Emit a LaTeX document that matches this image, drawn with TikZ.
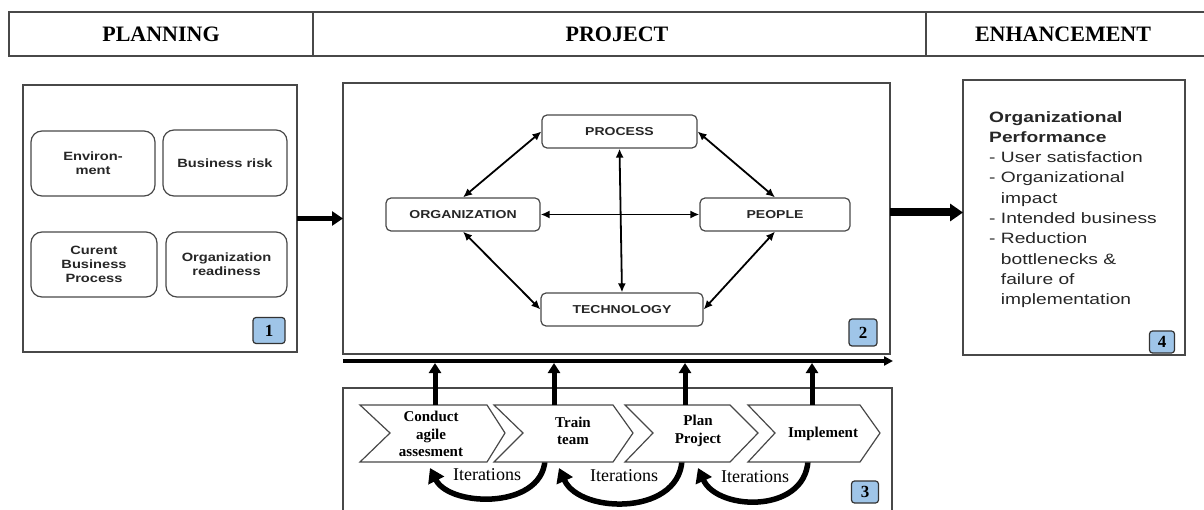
\documentclass[tikz,border=0pt]{standalone}
\usepackage{fontspec}
\setmainfont{Liberation Serif}
\newfontfamily\sansA[FakeStretch=1.22]{Liberation Sans}
\newfontfamily\sansB[FakeStretch=1.28]{Liberation Sans}
\usetikzlibrary{arrows.meta}
\definecolor{badgeblue}{HTML}{9FC5E8}
\definecolor{boxline}{HTML}{484848}
\begin{document}
\begin{tikzpicture}[x=1pt,y=-1pt,
  frame/.style={draw=boxline, line width=1.4pt, inner sep=0pt, outer sep=0pt},
  headtxt/.style={font=\bfseries\fontsize{22}{24}\selectfont, inner sep=0pt},
  pbox/.style={draw=boxline, line width=1.2pt, rounded corners=11pt, align=center,
    font=\sansA\bfseries\fontsize{12}{14}\selectfont, text=black!85, inner sep=0pt},
  cbox/.style={draw=boxline, line width=1.2pt, rounded corners=5pt, minimum height=33pt,
    font=\sansA\bfseries\fontsize{11.5}{13}\selectfont, text=black!85, inner sep=0pt},
  badge/.style={draw=black!80, line width=1.2pt, fill=badgeblue, rounded corners=3pt,
    font=\bfseries\fontsize{17}{17}\selectfont, inner sep=0pt},
  biarrow/.style={{Latex[length=9pt,width=8pt]}-{Latex[length=9pt,width=8pt]}, line width=1.8pt},
  chev/.style={draw=boxline, line width=1.2pt, fill=white},
  ctext/.style={align=center, font=\bfseries\fontsize{15}{17.5}\selectfont, inner sep=0pt},
  itxt/.style={font=\fontsize{18}{20}\selectfont, inner sep=0pt},
  uparrow/.style={line width=5pt, -{Triangle[length=10pt,width=12pt]}},
  iterarrow/.style={line width=5.5pt, -{Triangle[length=14pt,width=17pt]}}
]
\useasboundingbox (0,0) rectangle (1204,510);
\clip (0,0) rectangle (1204,510);

% header
\node[frame, minimum width=304pt, minimum height=44pt] (H1) at (161,34) {};
\node[frame, minimum width=613pt, minimum height=44pt] (H2) at (619.5,34) {};
\node[frame, minimum width=289pt, minimum height=44pt] (H3) at (1070.5,34) {};
\node[headtxt] (t1) at (161,34) {PLANNING};
\node[headtxt] (t2) at (617,34) {PROJECT};
\node[headtxt] (t3) at (1063,34) {ENHANCEMENT};

% big boxes
\node[frame, minimum width=274pt, minimum height=267pt] (B1) at (160,218.5) {};
\node[frame, minimum width=547pt, minimum height=271pt] (B2) at (616.5,218.5) {};
\node[frame, minimum width=222pt, minimum height=275pt] (B4) at (1074,217.5) {};
\node[frame, minimum width=549pt, minimum height=142pt] (B3) at (617.5,459) {};

% box 1 contents
\node[pbox, minimum width=124pt, minimum height=65pt] (env) at (93,163.5) {Environ-\\ment};
\node[pbox, minimum width=124pt, minimum height=66pt] (risk) at (225,163) {Business risk};
\node[pbox, minimum width=126pt, minimum height=65pt] (cur) at (94,264.5) {Curent\\Business\\Process};
\node[pbox, minimum width=121pt, minimum height=65pt] (ready) at (226.5,264.5) {Organization\\readiness};
\node[badge, minimum width=32pt, minimum height=26pt] (n1) at (269,330.5) {1};

% box 2 contents
\node[cbox, minimum width=155pt] (proc) at (619.5,131.5) {PROCESS};
\node[cbox, minimum width=154pt] (org) at (463,214.5) {ORGANIZATION};
\node[cbox, minimum width=150pt] (peo) at (775,214.5) {PEOPLE};
\node[cbox, minimum width=162pt] (tech) at (622,309.5) {TECHNOLOGY};
\draw[biarrow] (proc.west) -- (org.north);
\draw[biarrow] (proc.east) -- (peo.north);
\draw[biarrow] (org.south) -- (tech.west);
\draw[biarrow] (peo.south) -- (tech.east);
\draw[biarrow] (org.east) -- (peo.west);
\draw[biarrow] (proc.south) -- (tech.north);
\node[badge, minimum width=28pt, minimum height=27pt] (n2) at (863,332.5) {2};

% box 4 contents
\node[anchor=north west, inner sep=0pt, align=left, text=black!85,
  font=\sansB\fontsize{15}{20.3}\selectfont] (perf) at (989,111)
  {\textbf{Organizational}\\\textbf{Performance}\\- User satisfaction\\- Organizational\\\phantom{- }impact\\- Intended business\\- Reduction\\\phantom{- }bottlenecks \&\\\phantom{- }failure of\\\phantom{- }implementation};
\node[badge, minimum width=25pt, minimum height=22pt] (n4) at (1162,342) {4};

% thick arrows between boxes
\draw[line width=5pt, -{Triangle[length=11pt,width=14pt]}] (B1.east) -- (B2.west);
\draw[line width=8pt, -{Triangle[length=13pt,width=17pt]}] ([yshift=6pt]B2.east) -- ([yshift=6pt]B2.east -| B4.west);

% project line
\coordinate (hl) at (343,361);
\coordinate (hr) at (893,361);
\draw[line width=3.4pt, -{Triangle[length=9pt,width=9pt]}] (hl) -- (hr);

% iteration arrows (drawn beneath chevrons)
\draw[iterarrow] (545,455) .. controls (548,510) and (450,508) .. (430,468);
\draw[iterarrow] (682,455) .. controls (685,516) and (580,515) .. (559,468);
\draw[iterarrow] (808,455) .. controls (811,514) and (718,512) .. (698,468);
\node[itxt] (i1) at (487,475) {Iterations};
\node[itxt] (i2) at (624,476) {Iterations};
\node[itxt] (i3) at (755,477) {Iterations};

% chevrons
\draw[chev] (360,405) -- (487,405) -- (505,433) -- (487,462) -- (360,462) -- (390,433) -- cycle;
\draw[chev] (494,405) -- (613,405) -- (633,433) -- (613,462) -- (494,462) -- (523,433) -- cycle;
\draw[chev] (625,405) -- (730,405) -- (758,433) -- (730,462) -- (625,462) -- (653,433) -- cycle;
\draw[chev] (748,405) -- (860,405) -- (880,433) -- (860,462) -- (748,462) -- (775,433) -- cycle;
\node[ctext] (c1) at (431,434) {Conduct\\agile\\assesment};
\node[ctext] (c2) at (573,431) {Train\\team};
\node[ctext] (c3) at (698,431) {Plan\\Project};
\node[ctext] (c4) at (823,434) {Implement};

% up arrows from chevrons to project line
\foreach \x [count=\i] in {435,554,685,812} {
  \coordinate (u\i) at (\x,405);
  \coordinate (v\i) at (\x,363);
  \draw[uparrow] (u\i) -- (v\i);
}
\node[badge, minimum width=27pt, minimum height=22pt] (n3) at (865,492) {3};
\end{tikzpicture}
\end{document}
